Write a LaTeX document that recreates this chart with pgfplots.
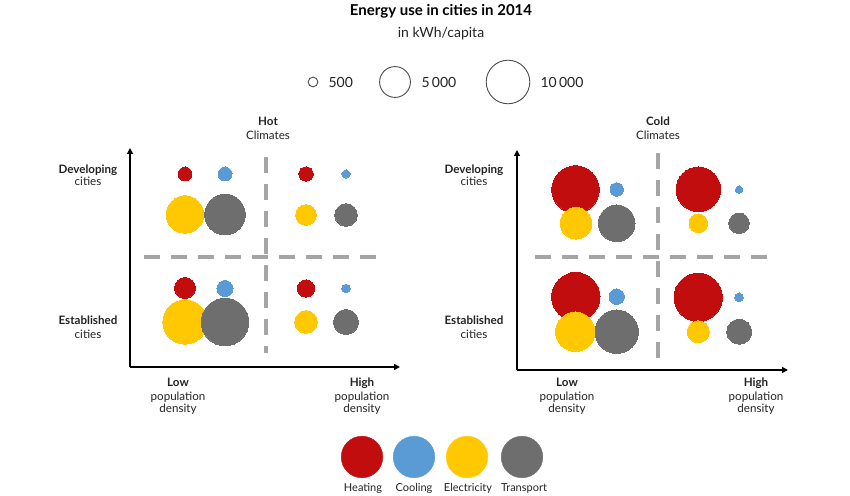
\documentclass[border=0pt]{standalone}
\usepackage{pgfplots}
\pgfplotsset{compat=1.18}
\usepackage{pgfplotstable}
\usepackage{fontspec}
\setmainfont{Lato}
\usetikzlibrary{arrows.meta}

\definecolor{heat}{RGB}{193,13,14}
\definecolor{cool}{RGB}{91,155,213}
\definecolor{elec}{RGB}{255,200,0}
\definecolor{trans}{RGB}{110,110,110}
\definecolor{dashgray}{RGB}{165,165,165}
\definecolor{txt}{RGB}{35,35,35}

% energy use in kWh/capita; x,y = spot in the panel, c: 0 heating, 1 cooling, 2 electricity, 3 transport
\pgfplotstableread{
x     y      v      c
55    193    1030   0
95    193    1030   1
55    152.5  7360   2
95    152.5  8670   3
176   193    1090   0
216   193    340    1
176   152    2230   2
216   152    2690   3
55    79     2320   0
95    78.5   1350   1
55    45     10370  2
95    45     11920  3
176   78.5   1590   0
216   78.5   390    1
176   45     2690   2
216   45     3290   3
}\hot

\pgfplotstableread{
x     y      v      c
58.5  180.5  11920  0
99.7  180.5  945    1
59    146.7  5250   2
99.7  146.7  7050   3
181.3 180.7  10460  0
222   180.3  290    1
181.3 146.7  1820   2
222   146.7  2230   3
58.8  73.3   12320  0
99.7  73.3   1250   1
58.3  38.3   8170   2
99.7  38.3   9910   3
181.2 72.7   12320  0
222   72.7   390    1
181.3 38.3   2550   2
222.2 38.3   3290   3
}\cold

\tikzset{quad/.style={dashgray, line width=4pt, dash pattern=on 16pt off 11pt}}

\pgfplotsset{
  bubble/.style 2 args={
    only marks, mark=*, scatter,
    point meta=\thisrow{v},
    restrict expr to domain={\thisrow{c}}{#2:#2},
    scatter/use mapped color={draw=#1, fill=#1, line width=0pt},
    visualization depends on={\thisrow{v} \as \val},
    scatter/@pre marker code/.append style={/tikz/mark size={21.8*sqrt(\val/10000)}},
  },
  panel/.style={
    scale only axis, clip=false,
    axis lines=left,
    axis line style={line width=1.8pt, -{Triangle[length=6pt, width=6pt]}},
    xtick=\empty, ytick=\empty,
  },
}

\newcommand\ttl{\fontsize{15}{18}\bfseries\selectfont}
\newcommand\subt{\fontsize{14}{17}\selectfont}
\newcommand\lab{\fontsize{11.6}{13}\selectfont}

\begin{document}
\begin{tikzpicture}
\path[use as bounding box] (0pt,0pt) rectangle (850pt,495pt);

% hot climates
\begin{axis}[panel, at={(130pt,128pt)}, anchor=south west,
    width=270pt, height=219pt, xmin=0, xmax=270, ymin=0, ymax=219]
  \draw[quad] (axis cs:136,210) -- (axis cs:136,14);
  \draw[quad] (axis cs:14,110) -- (axis cs:248,110);
  \addplot[bubble={heat}{0}] table {\hot};
  \addplot[bubble={cool}{1}] table {\hot};
  \addplot[bubble={elec}{2}] table {\hot};
  \addplot[bubble={trans}{3}] table {\hot};
\end{axis}

% cold climates
\begin{axis}[panel, at={(517pt,125pt)}, anchor=south west,
    width=271pt, height=220pt, xmin=0, xmax=271, ymin=0, ymax=220]
  \draw[quad] (axis cs:141,217) -- (axis cs:141,12);
  \draw[quad] (axis cs:18,113) -- (axis cs:253,113);
  \addplot[bubble={heat}{0}] table {\cold};
  \addplot[bubble={cool}{1}] table {\cold};
  \addplot[bubble={elec}{2}] table {\cold};
  \addplot[bubble={trans}{3}] table {\cold};
\end{axis}

% legends: bubble sizes and colours
\begin{axis}[at={(0pt,0pt)}, anchor=south west, scale only axis,
    width=850pt, height=495pt, xmin=0, xmax=850, ymin=0, ymax=495,
    hide axis, clip=false]
  \addplot[only marks, mark=o, mark size={21.8*sqrt(500/10000)}, black!70, line width=0.9pt] coordinates {(313,413)};
  \addplot[only marks, mark=o, mark size={21.8*sqrt(5000/10000)}, black!70, line width=0.9pt] coordinates {(395,413)};
  \addplot[only marks, mark=o, mark size={21.8*sqrt(10000/10000)}, black!70, line width=0.9pt] coordinates {(508,413)};
  \addplot[only marks, mark=*, mark size=20.8, heat] coordinates {(362,38)};
  \addplot[only marks, mark=*, mark size=20.8, cool] coordinates {(414,38)};
  \addplot[only marks, mark=*, mark size=20.8, elec] coordinates {(467,38)};
  \addplot[only marks, mark=*, mark size=20.8, trans] coordinates {(522,38)};
\end{axis}

% titles
\node[anchor=base, font=\ttl] at (441pt,479pt) {Energy use in cities in 2014};
\node[anchor=base, font=\subt, txt] at (441pt,457.7pt) {in kWh/capita};
\node[anchor=base west, font=\subt, txt] at (325pt,407.7pt) {500};
\node[anchor=base west, font=\subt, txt] at (418pt,407.7pt) {5\,000};
\node[anchor=base west, font=\subt, txt] at (537pt,407.7pt) {10\,000};

% panel labels
\foreach \cx/\nm in {268/Hot, 658/Cold} {
  \node[anchor=base, font=\lab\bfseries, txt] at (\cx pt,369pt) {\nm};
  \node[anchor=base, font=\lab, txt] at (\cx pt,355.7pt) {Climates};
}
\foreach \cx in {88, 474} {
  \node[anchor=base, font=\lab\bfseries, txt] at (\cx pt,321pt) {Developing};
  \node[anchor=base, font=\lab, txt] at (\cx pt,309pt) {cities};
  \node[anchor=base, font=\lab\bfseries, txt] at (\cx pt,170pt) {Established};
  \node[anchor=base, font=\lab, txt] at (\cx pt,156.7pt) {cities};
}
\foreach \cx/\nm in {178/Low, 362/High, 567/Low, 756/High} {
  \node[anchor=base, font=\lab\bfseries, txt] at (\cx pt,109pt) {\nm};
  \node[anchor=base, font=\lab, txt] at (\cx pt,95pt) {population};
  \node[anchor=base, font=\lab, txt] at (\cx pt,82.3pt) {density};
}

% colour legend labels
\foreach \cx/\nm in {363/Heating, 414/Cooling, 468/Electricity, 524/Transport} {
  \node[anchor=base, font=\fontsize{11}{12}\selectfont, txt] at (\cx pt,3.5pt) {\nm};
}
\end{tikzpicture}
\end{document}
